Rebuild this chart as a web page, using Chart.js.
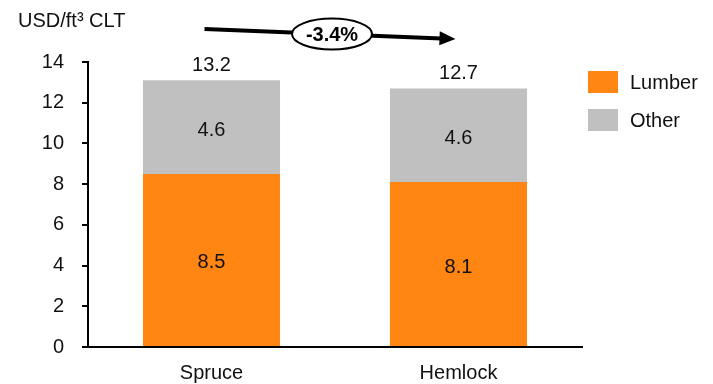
<!DOCTYPE html>
<html>
<head>
<meta charset="utf-8">
<script src="https://cdn.jsdelivr.net/npm/chart.js@4.4.0/dist/chart.umd.min.js"></script>
<style>
  html, body { margin: 0; padding: 0; background: #fff; }
  #wrap { width: 713px; height: 384px; position: relative; }
</style>
</head>
<body>
<div id="wrap"><canvas id="chart" width="713" height="384"></canvas></div>
<script>
const categories = ['Spruce', 'Hemlock'];
const lumber = [8.5, 8.1];
const other = [4.6, 4.6];
const totals = [13.2, 12.7];
const seriesNames = ['Lumber', 'Other'];
const changeLabel = '-3.4%';
const unitLabel = 'USD/ft\u00B3 CLT';

const FONT = 'Liberation Sans, Arial, sans-serif';
const SIZE = 20;

// value labels inside segments and totals above bars
const labelsPlugin = {
  id: 'labels',
  afterDatasetsDraw(chart) {
    const ctx = chart.ctx;
    ctx.save();
    ctx.font = SIZE + 'px ' + FONT;
    ctx.fillStyle = '#111';
    ctx.textAlign = 'center';
    ctx.textBaseline = 'middle';
    chart.data.datasets.forEach((ds, i) => {
      chart.getDatasetMeta(i).data.forEach((bar, j) => {
        const mid = (bar.y + bar.base) / 2;
        ctx.fillText(ds.data[j].toFixed(1), bar.x, mid + 3);
      });
    });
    const top = chart.getDatasetMeta(1).data;
    top.forEach((bar, j) => {
      ctx.fillText(totals[j].toFixed(1), bar.x, bar.y - 15);
    });
    ctx.restore();
  }
};

// unit title, legend, arrow with change label
const extrasPlugin = {
  id: 'extras',
  afterDraw(chart) {
    const ctx = chart.ctx;
    ctx.save();
    ctx.font = SIZE + 'px ' + FONT;
    ctx.fillStyle = '#111';
    ctx.textBaseline = 'middle';
    ctx.textAlign = 'left';
    ctx.fillText(unitLabel, 18, 21);

    // legend
    const area = chart.chartArea;
    chart.data.datasets.forEach((ds, i) => {
      const y = 71 + i * 38;
      ctx.fillStyle = ds.backgroundColor;
      ctx.fillRect(area.right + 6, y, 30, 22);
      ctx.fillStyle = '#111';
      ctx.fillText(ds.label, area.right + 48, y + 12);
    });

    // arrow
    const bars = chart.getDatasetMeta(1).data;
    const x0 = bars[0].x - 7, y0 = 29;
    const x1 = bars[1].x - 3, y1 = 39;
    const ang = Math.atan2(y1 - y0, x1 - x0);
    ctx.strokeStyle = '#000';
    ctx.fillStyle = '#000';
    ctx.lineWidth = 4;
    ctx.beginPath();
    ctx.moveTo(x0, y0);
    ctx.lineTo(x1 - 14 * Math.cos(ang), y1 - 14 * Math.sin(ang));
    ctx.stroke();
    ctx.beginPath();
    ctx.moveTo(x1, y1);
    ctx.lineTo(x1 - 16 * Math.cos(ang) + 7 * Math.sin(ang), y1 - 16 * Math.sin(ang) - 7 * Math.cos(ang));
    ctx.lineTo(x1 - 16 * Math.cos(ang) - 7 * Math.sin(ang), y1 - 16 * Math.sin(ang) + 7 * Math.cos(ang));
    ctx.closePath();
    ctx.fill();

    // ellipse
    const cx = (x0 + x1) / 2 + 2;
    const cy = y0 + (y1 - y0) * ((cx - x0) / (x1 - x0));
    ctx.beginPath();
    ctx.ellipse(cx, cy, 40, 15.5, 0, 0, Math.PI * 2);
    ctx.fillStyle = '#fff';
    ctx.fill();
    ctx.lineWidth = 2;
    ctx.stroke();
    ctx.fillStyle = '#000';
    ctx.textAlign = 'center';
    ctx.font = 'bold ' + SIZE + 'px ' + FONT;
    ctx.fillText(changeLabel, cx, cy + 1);
    ctx.restore();
  }
};

new Chart(document.getElementById('chart'), {
  type: 'bar',
  data: {
    labels: categories,
    datasets: [
      { label: seriesNames[0], data: lumber, backgroundColor: '#FF8612' },
      { label: seriesNames[1], data: other, backgroundColor: '#C0C0C0' }
    ]
  },
  options: {
    responsive: false,
    animation: false,
    layout: { padding: { top: 62, right: 131, left: 0, bottom: 0 } },
    datasets: { bar: { categoryPercentage: 0.555, barPercentage: 1.0 } },
    plugins: { legend: { display: false }, tooltip: { enabled: false } },
    scales: {
      x: {
        stacked: true,
        grid: { display: false, drawTicks: false },
        border: { display: true, color: '#000', width: 2 },
        ticks: { color: '#111', font: { family: FONT, size: SIZE }, padding: 14 },
        afterFit(scale) { scale.height = 37; }
      },
      y: {
        stacked: true,
        min: 0,
        max: 14,
        grid: { drawOnChartArea: false, color: '#000', lineWidth: 2, tickLength: 6 },
        border: { display: true, color: '#000', width: 2 },
        ticks: { stepSize: 2, color: '#111', font: { family: FONT, size: SIZE }, padding: 18 },
        afterFit(scale) { scale.width = 88; }
      }
    }
  },
  plugins: [labelsPlugin, extrasPlugin]
});
</script>
</body>
</html>
